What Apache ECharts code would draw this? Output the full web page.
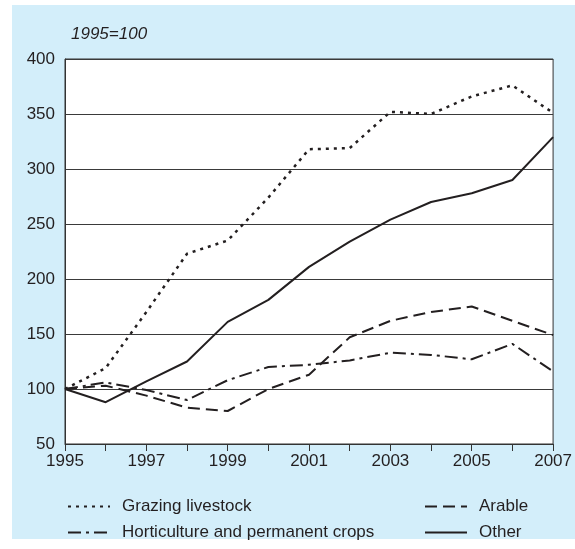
<!DOCTYPE html>
<html>
<head>
<meta charset="utf-8">
<script src="https://cdn.jsdelivr.net/npm/echarts@6/dist/echarts.min.js"></script>
<style>
  html, body { margin: 0; padding: 0; background: #fff; }
  #chart { width: 575px; height: 549px; }
</style>
</head>
<body>
<div id="chart"></div>
<script>
// index values, 1995 = 100
var years = [1995, 1996, 1997, 1998, 1999, 2000, 2001, 2002, 2003, 2004, 2005, 2006, 2007];
var grazing = [100, 119, 170, 223, 235, 274, 318, 319, 352, 350, 366, 376, 351];
var arable = [100, 103, 94, 83, 80, 100, 113, 147, 162, 170, 175, 162, 149];
var horticulture = [100, 106, 99, 90, 108, 120, 122, 126, 133, 131, 127, 141, 116];
var other = [100, 88, 107, 125, 161, 181, 211, 234, 254, 270, 278, 290, 329];
var yTicks = [50, 100, 150, 200, 250, 300, 350, 400];

function pairs(vals) {
    var out = [];
    for (var i = 0; i < years.length; i++) {
        out.push([years[i], vals[i]]);
    }
    return out;
}

var font = 'Liberation Sans, Arial, sans-serif';
var ink = '#231f20';

var myChart = echarts.init(document.getElementById('chart'));

function lineSeries(name, vals, dash, w) {
    return {
        name: name,
        type: 'line',
        data: pairs(vals),
        symbol: 'none',
        lineStyle: { color: ink, width: w || 2, type: dash },
        itemStyle: { color: ink }
    };
}

// legend icons: line only, no marker
var legendBase = {
    orient: 'vertical',
    top: 493,
    itemWidth: 42,
    itemHeight: 14,
    itemGap: 9,
    itemStyle: { opacity: 0 },
    textStyle: { fontFamily: font, fontSize: 17, color: ink, padding: [0, 0, 0, 7] }
};

var option = {
    animation: false,
    graphic: [
        {
            type: 'rect',
            z: -10,
            shape: { x: 12, y: 5, width: 563, height: 534 },
            style: { fill: '#d3eefa' }
        }
    ],
    title: {
        text: '1995=100',
        left: 66,
        top: 21,
        textStyle: { fontFamily: font, fontSize: 17, fontStyle: 'italic', fontWeight: 'normal', color: ink }
    },
    legend: [
        echarts.util.merge({ left: 62, data: ['Grazing livestock', 'Horticulture and permanent crops'] }, legendBase),
        echarts.util.merge({ left: 419, data: ['Arable', 'Other'] }, legendBase)
    ],
    grid: {
        left: 65,
        right: 18,
        top: 59,
        bottom: 105,
        show: true,
        backgroundColor: '#fff',
        borderColor: '#333',
        borderWidth: 1
    },
    xAxis: {
        type: 'value',
        min: 1995,
        max: 2007,
        interval: 1,
        axisLine: { lineStyle: { color: '#333', width: 1 } },
        axisTick: { show: true, length: 7, lineStyle: { color: '#333' } },
        axisLabel: {
            margin: 9,
            fontFamily: font,
            fontSize: 17,
            color: ink,
            formatter: function (v) { return v % 2 === 1 ? String(v) : ''; }
        },
        splitLine: { show: false }
    },
    yAxis: {
        type: 'value',
        min: yTicks[0],
        max: yTicks[yTicks.length - 1],
        interval: 50,
        axisLine: { show: true, lineStyle: { color: '#333', width: 1 } },
        axisTick: { show: false },
        axisLabel: { margin: 10, fontFamily: font, fontSize: 17, color: ink },
        splitLine: { show: true, lineStyle: { color: '#3a3a3a', width: 1 } }
    },
    series: [
        lineSeries('Grazing livestock', grazing, [3, 5], 2.5),
        lineSeries('Arable', arable, [12, 6]),
        lineSeries('Horticulture and permanent crops', horticulture, [13, 5, 3, 5]),
        lineSeries('Other', other, 'solid')
    ]
};

myChart.setOption(option);
</script>
</body>
</html>
